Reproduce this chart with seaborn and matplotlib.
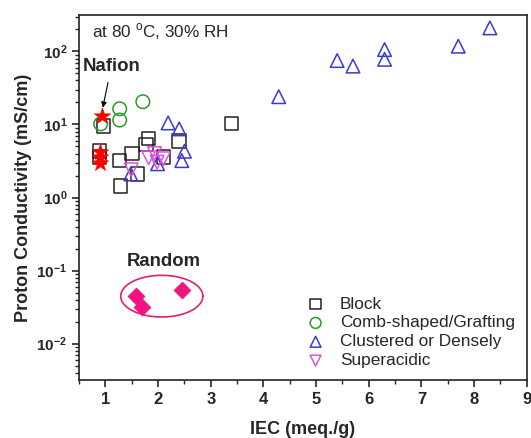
import numpy as np
import pandas as pd
import matplotlib
matplotlib.use("Agg")
import matplotlib.pyplot as plt
import matplotlib.ticker as mticker
import seaborn as sns

# ---- data ----
block_x = [0.96, 0.89, 0.89, 1.27, 1.50, 1.29, 1.61, 1.82, 1.77, 2.10, 2.40, 3.39]
block_y = [9.5, 4.3, 3.6, 3.2, 4.0, 1.45, 2.1, 6.4, 5.3, 3.6, 5.9, 10.3]

comb_x = [0.91, 1.27, 1.27, 1.71]
comb_y = [10.2, 16.4, 11.5, 20.5]

clus_x = [2.19, 2.40, 2.50, 2.45, 1.99, 1.48, 4.29, 5.40, 5.70, 6.30, 6.30, 7.70, 8.30]
clus_y = [10.5, 8.7, 4.3, 3.2, 2.9, 2.1, 24, 75, 63, 106, 78, 118, 210]

super_x = [1.49, 1.82, 1.93, 1.98, 2.10]
super_y = [2.4, 3.5, 4.0, 3.05, 3.4]

nafion_x = [0.93, 0.90, 0.90, 0.90]
nafion_y = [13.0, 4.2, 3.6, 3.0]

random_x = [1.58, 1.69, 2.45]
random_y = [0.045, 0.032, 0.054]

categories = ["Block", "Comb-shaped/Grafting", "Clustered or Densely", "Superacidic"]
cat_x = [block_x, comb_x, clus_x, super_x]
cat_y = [block_y, comb_y, clus_y, super_y]
markers = ["s", "o", "^", "v"]
colors = ["#222222", "#2a9a2a", "#3a3ad0", "#e050e0"]

xticks = [1, 2, 3, 4, 5, 6, 7, 8, 9]
ydecades = [-2, -1, 0, 1, 2]

# ---- plot ----
sns.set_style("ticks")
plt.rcParams["font.family"] = ["Liberation Sans", "DejaVu Sans"]
plt.rcParams["mathtext.fontset"] = "custom"
plt.rcParams["mathtext.rm"] = "Liberation Sans"
plt.rcParams["mathtext.bf"] = "Liberation Sans:bold"

fig = plt.figure(figsize=(5.31, 4.38), dpi=100)
ax = fig.add_axes([0.149, 0.132, 0.843, 0.834])

for name, xs, ys, m, c in zip(categories, cat_x, cat_y, markers, colors):
    df = pd.DataFrame({"IEC": xs, "sigma": ys})
    sns.scatterplot(data=df, x="IEC", y="sigma", ax=ax, marker=m, s=95,
                    facecolors="none", edgecolor=c, linewidth=1.1,
                    label=name, zorder=3)

df_n = pd.DataFrame({"IEC": nafion_x, "sigma": nafion_y})
sns.scatterplot(data=df_n, x="IEC", y="sigma", ax=ax, marker="*", s=150,
                color="#ff0000", edgecolor="#ff0000", linewidth=0.5, zorder=4)

df_r = pd.DataFrame({"IEC": random_x, "sigma": random_y})
sns.scatterplot(data=df_r, x="IEC", y="sigma", ax=ax, marker="D", s=75,
                color="#f0147f", edgecolor="#f0147f", linewidth=0.5, zorder=4)

# ellipse around random points (in log-y space)
t = np.linspace(0, 2 * np.pi, 200)
ecx, ecl, ea, eb = 2.07, -1.35, 0.78, 0.285
ax.plot(ecx + ea * np.cos(t), 10 ** (ecl + eb * np.sin(t)), color="#e0206f", lw=1.2)

ax.set_yscale("log")
ax.set_xlim(0.5, 9)
ax.set_ylim(10 ** -2.5, 10 ** 2.5)

ax.set_xticks(xticks)
ax.set_xticklabels([str(v) for v in xticks], fontweight="bold")
ax.xaxis.set_minor_locator(mticker.MultipleLocator(0.5))
ax.set_yticks([10.0 ** d for d in ydecades])
ax.set_yticklabels([r"$\mathbf{10^{%d}}$" % d for d in ydecades])
ax.yaxis.set_minor_locator(mticker.LogLocator(base=10, subs=np.arange(2, 10), numticks=20))
ax.yaxis.set_minor_formatter(mticker.NullFormatter())

ax.tick_params(axis="both", which="major", direction="out", length=5, width=1.2,
               labelsize=12, top=False, right=False)
ax.tick_params(axis="y", which="major", labelsize=11)
ax.tick_params(axis="both", which="minor", direction="out", length=3, width=1,
               top=False, right=False)
for s in ax.spines.values():
    s.set_linewidth(1.2)
    s.set_color("#222222")

ax.set_xlabel("IEC (meq./g)", fontsize=13, fontweight="bold", labelpad=10)
ax.set_ylabel("Proton Conductivity (mS/cm)", fontsize=13, fontweight="bold", labelpad=3)

ax.text(0.75, 10 ** 2.27, r"at 80 $^{\mathrm{o}}$C, 30% RH", fontsize=12.3, va="center")
ax.annotate("Nafion", xy=(0.95, 17), xytext=(1.11, 62), fontsize=13.4, fontweight="bold",
            ha="center", va="center",
            arrowprops=dict(arrowstyle="-|>", color="black", lw=0.8, mutation_scale=8,
                            shrinkA=3, shrinkB=0))
ax.text(2.1, 10 ** -0.88, "Random", fontsize=13.3, fontweight="bold", ha="center", va="center")

ax.legend(loc="lower right", bbox_to_anchor=(1.0, 0.0), frameon=False, fontsize=12.4,
          handletextpad=0.4, labelspacing=0.22, borderaxespad=0.3, markerscale=0.8)

fig.savefig("out.png", dpi=100)
